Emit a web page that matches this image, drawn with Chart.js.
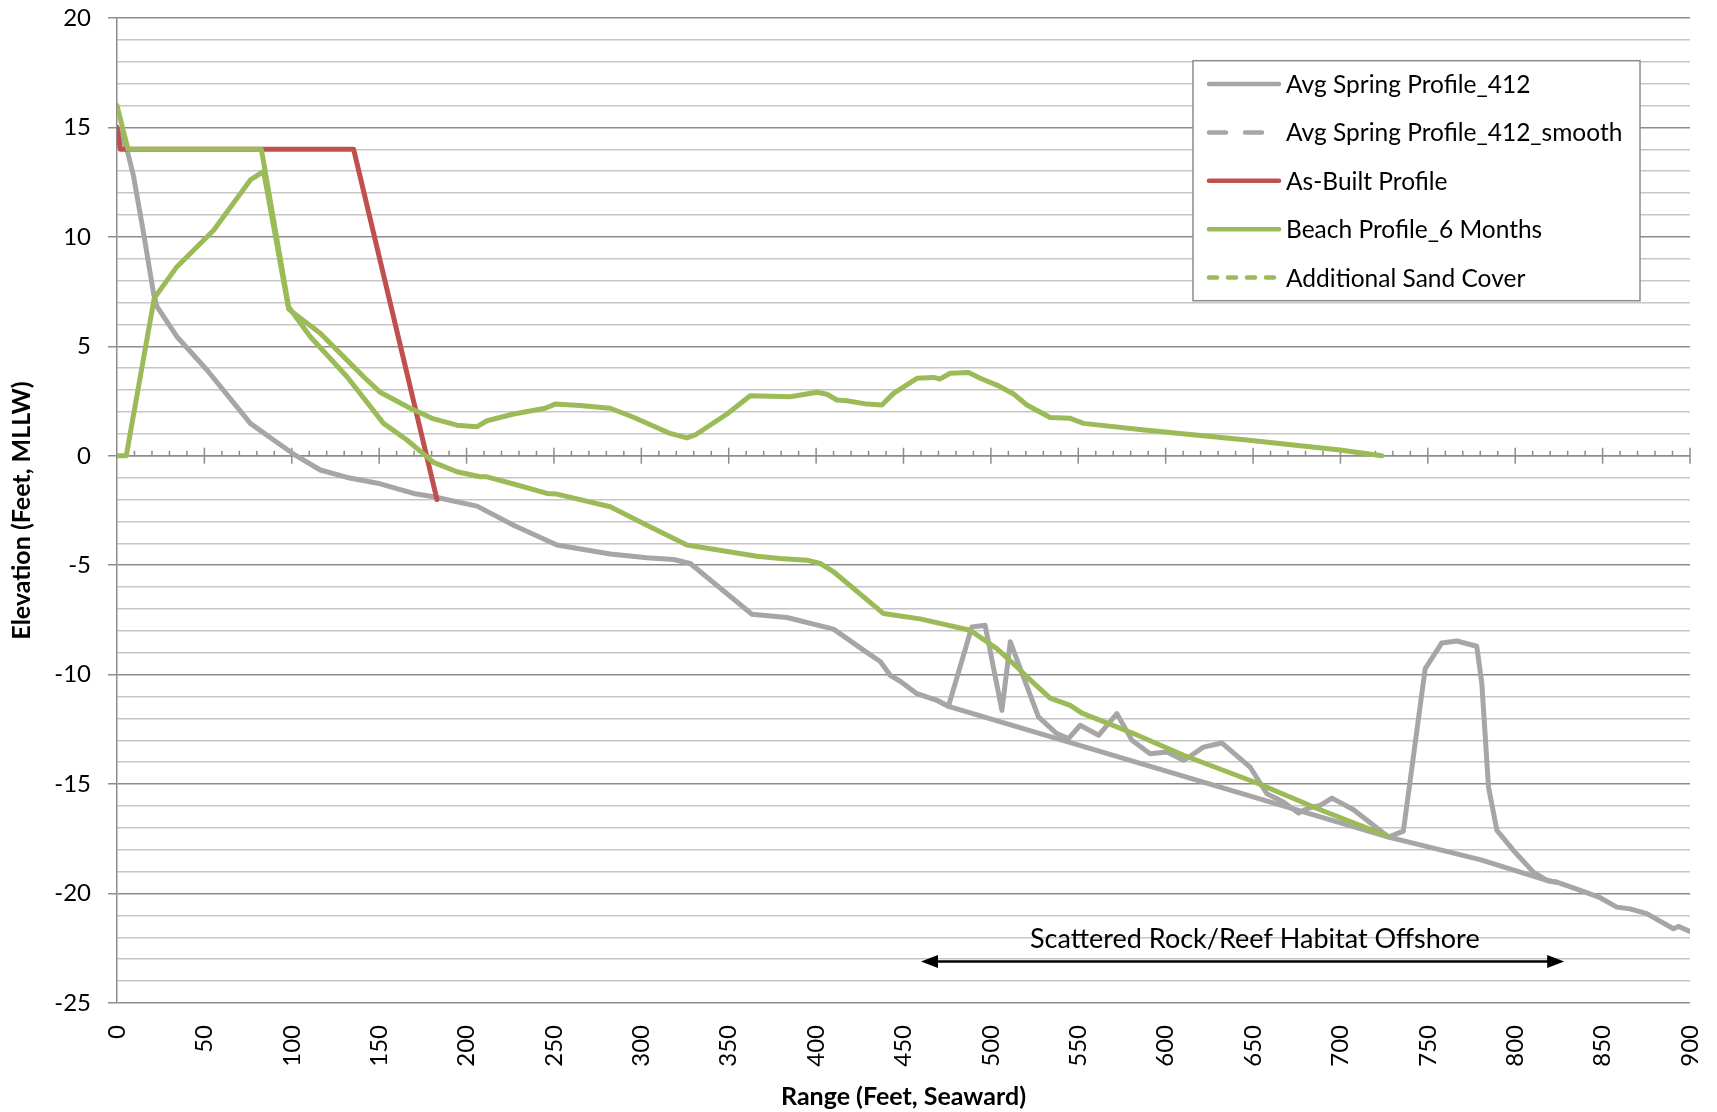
<!DOCTYPE html>
<html>
<head>
<meta charset="utf-8">
<title>Beach profile</title>
<script src="https://cdn.jsdelivr.net/npm/chart.js@4.4.1/dist/chart.umd.min.js"></script>
<style>
  html, body { margin: 0; padding: 0; background: #fff; }
  #wrap { width: 1717px; height: 1112px; }
</style>
</head>
<body>
<div id="wrap"><canvas id="profileChart" width="1717" height="1112"></canvas></div>
<script>
// Avg Spring Profile_412 (range ft, elevation ft MLLW)
const avgRange = [0, 5.7, 9.5, 15.2, 20.9, 22.9, 34.3, 51.5, 76.3, 89.6, 101, 116.3, 131.6, 150.6,
  169.7, 181.1, 206, 226.9, 251.7, 282.2, 303.2, 318.4, 328, 363.3, 383.3, 410, 427.1, 436.7,
  442.4, 448.1, 457.7, 469.1, 475.7, 489.1, 496.7, 506.3, 511.1, 527.2, 537.7, 544.4, 551.1,
  561.6, 572.1, 580.7, 591.1, 600.7, 610.2, 614, 621.6, 632.1, 648.3, 657.9, 667.4, 676, 680.8,
  688.4, 695.1, 707.5, 727.5, 736, 748.5, 758, 766.6, 778, 780.9, 784.7, 789.5, 799, 810.4,
  818.1, 823.8, 833.3, 848.6, 858.1, 865.7, 875.3, 890.5, 893.4, 900];
const avgElev = [15, 14, 12.76, 10.17, 7.42, 6.81, 5.44, 3.92, 1.48, 0.72, 0.08, -0.65, -0.99, -1.28,
  -1.72, -1.87, -2.3, -3.17, -4.08, -4.49, -4.66, -4.74, -4.92, -7.24, -7.39, -7.92, -8.88, -9.4,
  -10.03, -10.3, -10.87, -11.17, -11.45, -7.82, -7.74, -11.63, -8.5, -11.93, -12.69, -12.92, -12.31,
  -12.77, -11.78, -13.0, -13.61, -13.53, -13.91, -13.73, -13.31, -13.12, -14.22, -15.44, -15.82, -16.32, -16.12,
  -15.97, -15.64, -16.17, -17.42, -17.15, -9.72, -8.55, -8.46, -8.7, -10.41, -15.13, -17.11, -18.03, -19.02,
  -19.4, -19.48, -19.74, -20.19, -20.62, -20.7, -20.92, -21.61, -21.5, -21.73];

// Avg Spring Profile_412_smooth (only visible where it bridges the reef)
const smoothRange = [469.1, 475.7, 727.5, 779.9, 818.1, 823.8];
const smoothElev = [-11.17, -11.45, -17.42, -18.45, -19.4, -19.48];

// As-Built Profile
const builtRange = [0, 1.9, 135.4, 183.1];
const builtElev = [15.0, 14.0, 14.0, -2.0];

// Beach Profile_6 Months
const beachRange = [0, 6.3, 82.6, 98.2, 110.6, 131.6, 152.5, 165.9, 181.1, 194.5, 207.8, 211.7, 226.9,
  246, 251.7, 282.2, 303.2, 326.1, 341.3, 366.1, 379.5, 394.7, 402.3, 410, 438.6, 448.1, 459.5,
  488.1, 503.4, 514.9, 520.6, 533.9, 545.4, 552.1, 581.6, 610.2, 652.2, 688.4, 726.5];
const beachElev = [16.0, 14.0, 14.0, 6.8, 5.44, 3.61, 1.48, 0.72, -0.3, -0.73, -0.96, -0.96, -1.29,
  -1.72, -1.75, -2.33, -3.17, -4.08, -4.27, -4.59, -4.69, -4.77, -4.92, -5.3, -7.21, -7.32, -7.45,
  -7.97, -8.81, -9.65, -10.1, -11.07, -11.4, -11.76, -12.69, -13.68, -14.95, -16.17, -17.36];

// Additional Sand Cover
const sandRange = [0, 5.3, 21.3, 34.3, 55.3, 76.3, 83.9, 98.2, 116.3, 129.6, 141.1, 150.6, 167.8, 180.2,
  194.5, 206, 211.7, 226.9, 245, 250.7, 265, 282.2, 295.5, 316.5, 326.1, 330.8, 349, 362.3, 385.2,
  400.5, 406.2, 411.9, 417.6, 429.1, 437.6, 444.3, 457.7, 467.2, 471, 476.7, 487.2, 493.9, 503.4,
  513, 520.6, 533.9, 545.4, 553, 589.2, 646.4, 699.8, 723.7];
const sandElev = [0, 0, 7.2, 8.64, 10.3, 12.6, 12.99, 6.7, 5.6, 4.53, 3.61, 2.9, 2.17, 1.71,
  1.4, 1.33, 1.6, 1.91, 2.17, 2.36, 2.3, 2.17, 1.76, 1.02, 0.82, 0.95, 1.91, 2.74, 2.7,
  2.9, 2.81, 2.55, 2.51, 2.36, 2.32, 2.85, 3.54, 3.58, 3.51, 3.77, 3.8, 3.54, 3.23,
  2.82, 2.32, 1.75, 1.71, 1.48, 1.17, 0.72, 0.26, 0];

// axes
const xMin = 0, xMax = 900, xStep = 50, xMinorStep = 10;
const yMin = -25, yMax = 20, yMajorStep = 5;

// reef note
const reefLabel = "Scattered Rock/Reef Habitat Offshore";
const reefLabelAt = [651, -22.5];
const reefArrow = [460, 828, -23.1];

const majorGrid = "#8c8c8c";
const minorGrid = "#c6c6c6";

const toPoints = (xs, ys) => xs.map((x, i) => ({ x: x, y: ys[i] }));

const zeroAxisPlugin = {
  id: "zeroAxis",
  beforeDatasetsDraw(chart) {
    const { ctx, chartArea: { left, right }, scales: { x, y } } = chart;
    const y0 = y.getPixelForValue(0);
    ctx.save();
    ctx.strokeStyle = majorGrid;
    ctx.lineWidth = 1.5;
    ctx.beginPath();
    ctx.moveTo(left, y0);
    ctx.lineTo(right, y0);
    for (let v = xMin + xMinorStep; v <= xMax; v += xMinorStep) {
      const px = x.getPixelForValue(v);
      if (v % xStep === 0) {
        ctx.moveTo(px, y0 - 8);
        ctx.lineTo(px, y0 + 8);
      } else {
        ctx.moveTo(px, y0 - 5);
        ctx.lineTo(px, y0);
      }
    }
    ctx.stroke();
    ctx.restore();
  },
};

const reefPlugin = {
  id: "reefNote",
  afterDatasetsDraw(chart) {
    const { ctx, scales: { x, y } } = chart;
    const x1 = x.getPixelForValue(reefArrow[0]);
    const x2 = x.getPixelForValue(reefArrow[1]);
    const ya = y.getPixelForValue(reefArrow[2]);
    const head = 17, half = 6.5;
    ctx.save();
    ctx.strokeStyle = "#000";
    ctx.fillStyle = "#000";
    ctx.lineWidth = 2.5;
    ctx.beginPath();
    ctx.moveTo(x1 + head - 2, ya);
    ctx.lineTo(x2 - head + 2, ya);
    ctx.stroke();
    ctx.beginPath();
    ctx.moveTo(x1, ya);
    ctx.lineTo(x1 + head, ya - half);
    ctx.lineTo(x1 + head, ya + half);
    ctx.closePath();
    ctx.moveTo(x2, ya);
    ctx.lineTo(x2 - head, ya - half);
    ctx.lineTo(x2 - head, ya + half);
    ctx.closePath();
    ctx.fill();
    ctx.font = "27px Lato";
    ctx.textAlign = "center";
    ctx.textBaseline = "alphabetic";
    ctx.fillText(reefLabel, x.getPixelForValue(reefLabelAt[0]), y.getPixelForValue(reefLabelAt[1]));
    ctx.restore();
  },
};

const boxLegendPlugin = {
  id: "boxLegend",
  afterDatasetsDraw(chart) {
    const { ctx, chartArea } = chart;
    const bx = chartArea.right - 497;
    const by = chartArea.top + 42.7;
    const bw = 447, bh = 240;
    ctx.save();
    ctx.fillStyle = "#fff";
    ctx.fillRect(bx, by, bw, bh);
    ctx.strokeStyle = "#8c8c8c";
    ctx.lineWidth = 1.5;
    ctx.strokeRect(bx, by, bw, bh);
    ctx.font = "24.5px Lato";
    ctx.textBaseline = "middle";
    ctx.textAlign = "left";
    chart.data.datasets.forEach((ds, i) => {
      const ry = by + 23.3 + i * 48.4;
      ctx.strokeStyle = ds.borderColor;
      ctx.lineWidth = 4.5;
      ctx.lineCap = "round";
      ctx.setLineDash(ds.legendDash);
      ctx.beginPath();
      ctx.moveTo(bx + 16, ry);
      ctx.lineTo(bx + ds.legendEnd, ry);
      ctx.stroke();
      ctx.setLineDash([]);
      ctx.fillStyle = "#000";
      ctx.fillText(ds.label, bx + 93, ry + 1);
    });
    ctx.restore();
  },
};

function buildChart() {
  Chart.defaults.font.family = "Lato, 'Open Sans', sans-serif";
  Chart.defaults.color = "#000";

  const line = { borderWidth: 5, pointRadius: 0, pointHoverRadius: 0, tension: 0,
    borderCapStyle: "round", borderJoinStyle: "round", fill: false };

  new Chart(document.getElementById("profileChart"), {
    type: "line",
    data: {
      datasets: [
        { ...line, label: "Avg Spring Profile_412", data: toPoints(avgRange, avgElev),
          borderColor: "#a6a6a6", order: 5, legendDash: [], legendEnd: 86 },
        { ...line, label: "Avg Spring Profile_412_smooth", data: toPoints(smoothRange, smoothElev),
          borderColor: "#a6a6a6", order: 4, legendDash: [17, 19], legendEnd: 72 },
        { ...line, label: "As-Built Profile", data: toPoints(builtRange, builtElev),
          borderColor: "#c0504d", order: 3, legendDash: [], legendEnd: 86 },
        { ...line, label: "Beach Profile_6 Months", data: toPoints(beachRange, beachElev),
          borderColor: "#9bbb59", order: 2, legendDash: [], legendEnd: 86 },
        { ...line, label: "Additional Sand Cover", data: toPoints(sandRange, sandElev),
          borderColor: "#9bbb59", order: 1, legendDash: [8, 11], legendEnd: 86 },
      ],
    },
    options: {
      responsive: false,
      animation: false,
      devicePixelRatio: 1,
      layout: { padding: { top: 18, right: 27, bottom: 0, left: 0 } },
      plugins: { legend: { display: false }, tooltip: { enabled: false } },
      scales: {
        x: {
          type: "linear",
          position: "bottom",
          min: xMin,
          max: xMax,
          border: { display: false },
          grid: { display: false, drawTicks: false },
          ticks: { stepSize: xStep, autoSkip: false, minRotation: 90, maxRotation: 90,
            padding: 22, font: { size: 24 } },
          title: { display: true, text: "Range (Feet, Seaward)",
            font: { size: 25, weight: "bold" }, padding: { top: 0, bottom: 0 } },
          afterFit(s) {
            s.height = 109;
            s.paddingLeft = 0;
            s.paddingRight = 0;
          },
        },
        y: {
          min: yMin,
          max: yMax,
          border: { display: true, color: majorGrid, width: 1.5 },
          grid: {
            color: (c) => (c.tick.value % yMajorStep === 0 ? majorGrid : minorGrid),
            lineWidth: 1.5,
            tickLength: 9,
            tickWidth: 1.5,
            tickColor: (c) => (c.tick.value % yMajorStep === 0 ? majorGrid : "rgba(0,0,0,0)"),
          },
          ticks: {
            stepSize: 1,
            autoSkip: false,
            padding: 17,
            font: { size: 24 },
            callback: (v) => (v % yMajorStep === 0 ? String(v) : ""),
          },
          title: { display: true, text: "Elevation (Feet, MLLW)",
            font: { size: 25, weight: "bold" }, padding: { top: 7, bottom: 0 } },
          afterFit(s) {
            s.width = 117;
            s.paddingTop = 0;
            s.paddingBottom = 0;
          },
        },
      },
    },
    plugins: [zeroAxisPlugin, reefPlugin, boxLegendPlugin],
  });
}

Promise.all([
  document.fonts.load("24px Lato"),
  document.fonts.load("bold 25px Lato"),
]).catch(() => {}).then(buildChart);
</script>
</body>
</html>
